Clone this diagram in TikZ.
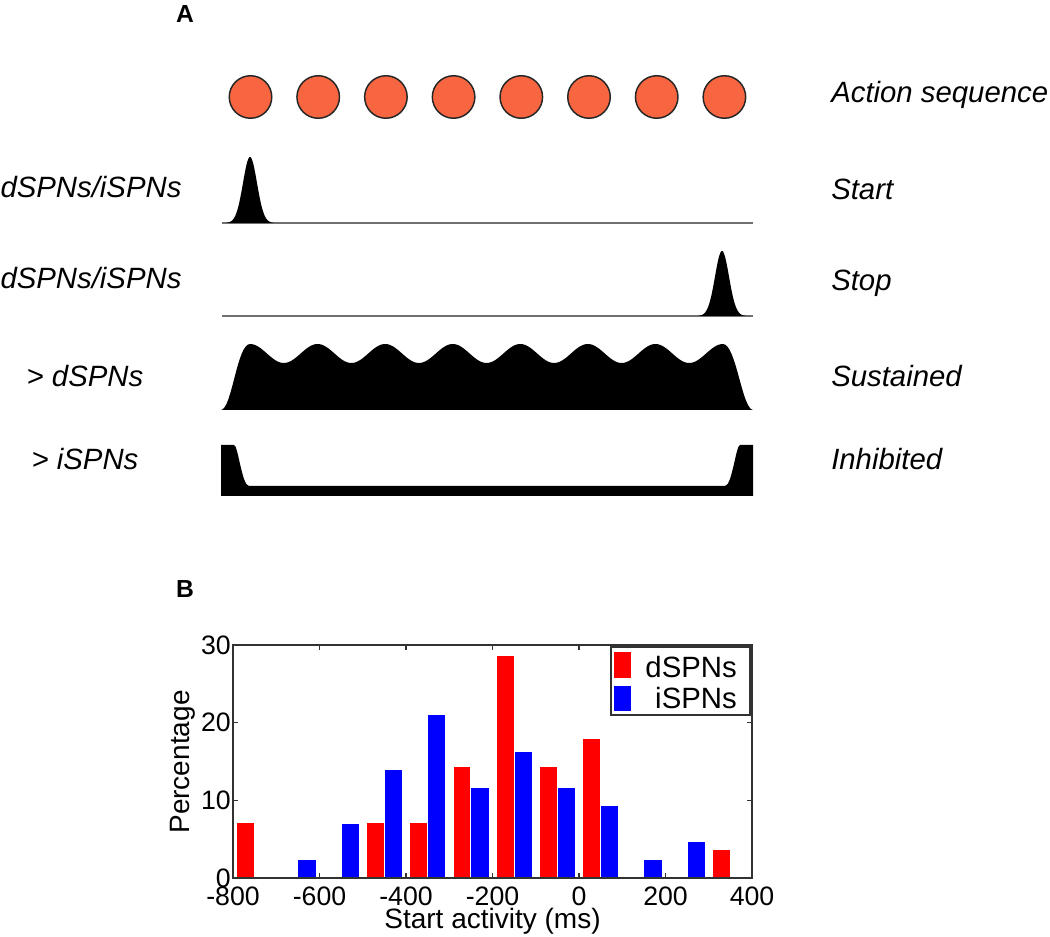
\documentclass[tikz,border=0pt]{standalone}
\usepackage{fontspec}
\setmainfont{Liberation Sans}
\definecolor{actfill}{RGB}{247,102,64}
\definecolor{baseg}{RGB}{112,112,112}
\definecolor{axisc}{RGB}{50,50,50}
\begin{document}
\begin{tikzpicture}[x=0.75pt,y=-0.75pt,
  lbl/.style={font=\fontsize{22}{26}\selectfont\itshape, inner sep=0pt},
  panel/.style={font=\fontsize{18.5}{22}\selectfont\bfseries, inner sep=0pt},
  act/.style={circle, draw=black!85, line width=1.1pt, fill=actfill, minimum size=31.9pt, inner sep=0pt},
  baseln/.style={draw=baseg, line width=2.2pt},
  axisln/.style={draw=axisc, line width=1.1pt},
  ticklbl/.style={font=\fontsize{20}{24}\selectfont, inner sep=0pt},
  axlbl/.style={font=\fontsize{21}{25}\selectfont, inner sep=0pt},
  leglbl/.style={font=\fontsize{22}{26}\selectfont, inner sep=0pt}
]
\useasboundingbox (0,0) rectangle (1050,937);

% ---------- Panel A ----------
\node[panel, anchor=base] (pA) at (185,23) {A};

\foreach \i in {0,...,7}
  \node[act] (c\i) at ({250.5+67.7*\i},97) {};

\node[lbl, anchor=base west] (r0) at (831,103) {Action sequence};
\node[lbl, anchor=base west] (r1) at (831,200) {Start};
\node[lbl, anchor=base west] (r2) at (831,291) {Stop};
\node[lbl, anchor=base west] (r3) at (831,387) {Sustained};
\node[lbl, anchor=base west] (r4) at (831,470) {Inhibited};

\node[lbl, anchor=base] (l1) at (91,198) {dSPNs/iSPNs};
\node[lbl, anchor=base] (l2) at (91,289) {dSPNs/iSPNs};
\node[lbl, anchor=base] (l3) at (85,387) {> dSPNs};
\node[lbl, anchor=base] (l4) at (85,470) {> iSPNs};

% Start trace
\draw[baseln] (222,223) -- (753,223);
\fill[black] plot[domain=226:274, samples=97] (\x,{223-66*exp(-((\x-250)*(\x-250))/98)}) -- cycle;

% Stop trace
\draw[baseln] (222,316) -- (753,316);
\fill[black] plot[domain=698:746, samples=97] (\x,{316-65*exp(-((\x-722)*(\x-722))/98)}) -- cycle;

% Sustained trace
\fill[black] (221,410) .. controls (232,409) and (237,344) .. (250,344)
  -- plot[domain=250:723, samples=320] (\x,{353.5-9.5*cos((\x-250)*5.32773)})
  .. controls (736,344) and (742,409) .. (753,410) -- cycle;

% Inhibited trace
\fill[black] (221,445) -- (234,445) .. controls (238,445) and (242,486) .. (249,486)
  -- (725,486) .. controls (732,486) and (736,445) .. (740,445)
  -- (753,445) -- (753,496) -- (221,496) -- cycle;

% ---------- Panel B ----------
\node[panel, anchor=base] (pB) at (185,598) {B};

\begin{scope}[shift={(579,878)}, xscale=0.4325, yscale=-7.7667]
  \foreach \c/\h in {-750/7.14,-450/7.14,-350/7.14,-250/14.29,-150/28.57,-50/14.29,50/17.86,350/3.57}
    \fill[red] (\c-40,0) rectangle (\c-1,\h);
  \foreach \c/\h in {-650/2.33,-550/6.98,-450/13.95,-350/20.93,-250/11.63,-150/16.28,-50/11.63,50/9.30,150/2.33,250/4.65}
    \fill[blue] (\c+1,0) rectangle (\c+41,\h);
\end{scope}

\draw[axisln] (233,645) rectangle (752,878);
\foreach \px in {319.5,406,492.5,579,665.5} {
  \draw[axisln] (\px,878) -- (\px,873);
  \draw[axisln] (\px,645) -- (\px,650);
}
\foreach \py in {722.7,800.3} {
  \draw[axisln] (233,\py) -- (238,\py);
  \draw[axisln] (752,\py) -- (747,\py);
}

\foreach \v/\px [count=\k] in {-800/233,-600/319.5,-400/406,-200/492.5,0/579,200/665.5,400/752}
  \node[ticklbl, anchor=base] (xt\k) at (\px,905) {\v};
\foreach \v/\py [count=\k] in {0/878,10/800.3,20/722.7,30/645}
  \node[ticklbl, anchor=east] (yt\k) at (231,\py) {\v};

\node[axlbl, rotate=90, anchor=center] (ylab) at (182.5,762) {Percentage};
\node[axlbl, anchor=base] (xlab) at (492.5,928) {Start activity (ms)};

% legend
\draw[axisln, fill=white] (611,647) rectangle (750,715);
\fill[red] (614,652) rectangle (631,678);
\fill[blue] (614,686) rectangle (631,711);
\node[leglbl, anchor=base east] (ld) at (737,677) {dSPNs};
\node[leglbl, anchor=base east] (li) at (737,708) {iSPNs};
\end{tikzpicture}
\end{document}
